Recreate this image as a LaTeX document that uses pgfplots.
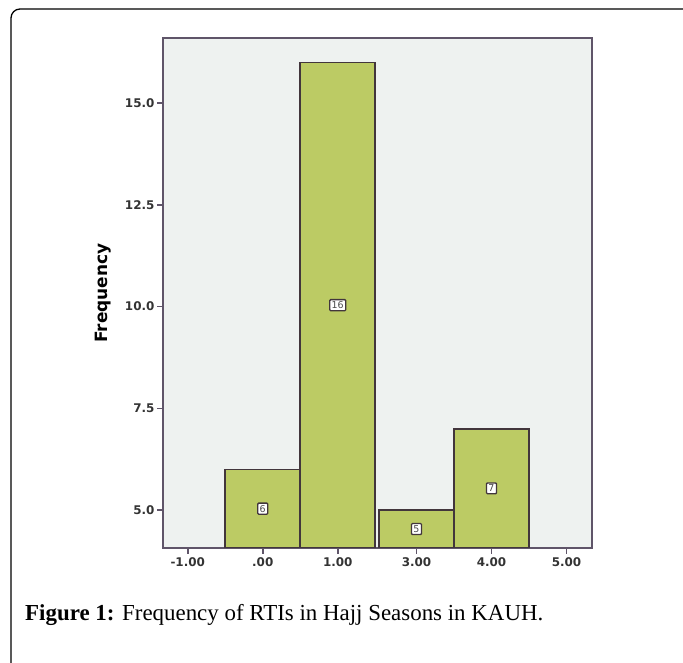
\documentclass[border=0pt]{standalone}
\usepackage{pgfplots}
\pgfplotsset{compat=1.18}
\usepackage{fontspec}
\setmainfont{Liberation Serif}
\newfontfamily\spssfont{DejaVu Sans}
\definecolor{barcol}{RGB}{188,203,100}
\definecolor{bardraw}{RGB}{66,54,60}
\definecolor{axcol}{RGB}{95,85,105}
\definecolor{bgl}{RGB}{238,242,240}
\definecolor{bgg}{RGB}{220,232,210}
\pgfdeclareverticalshading{spssbg}{100bp}{color(0bp)=(bgl); color(76bp)=(bgl); color(87bp)=(bgg); color(100bp)=(bgg)}
\pgfplotstableread{
x y
1 6
2 16
3.05 5
4.05 7
}\bardata
\pgfplotstableread{
x y l
1 5.035 6
2 10.035 16
3.05 4.535 5
4.05 5.535 7
}\labdata
\begin{document}
\begin{tikzpicture}
\useasboundingbox (0bp,0bp) rectangle (683bp,663bp);
\draw[line width=1.3bp, rounded corners=9bp] (11bp,-30bp) -- (11bp,654bp) -- (700bp,654bp);
\begin{axis}[
  at={(163bp,115bp)}, anchor=south west,
  scale only axis, width=429bp, height=510bp,
  xmin=-0.33, xmax=5.39, ymin=4.07, ymax=16.6,
  axis background/.style={shading=spssbg},
  axis line style={draw=axcol, line width=1.5bp},
  xtick={0,1,2,3.05,4.05,5.05},
  xticklabels={-1.00,.00,1.00,3.00,4.00,5.00},
  ytick={5,7.5,10,12.5,15},
  yticklabels={5.0,7.5,10.0,12.5,15.0},
  xtick pos=left, ytick pos=left,
  tick align=outside, major tick length=6bp,
  tick style={draw=axcol, line width=1.5bp},
  tick label style={font=\spssfont\bfseries\fontsize{12}{14}\selectfont, text=black!80},
  yticklabel style={xshift=1bp},
  ylabel={\spssfont\bfseries\fontsize{17}{19}\selectfont Frequency},
  ylabel style={at={(axis description cs:-0.14,0.5)}, anchor=center},
  clip=true,
]
\addplot[ybar, bar width=1, bar shift=0pt, fill=barcol, draw=bardraw, line width=1.6bp] table[x=x,y=y] {\bardata};
\addplot[draw=none, nodes near coords, point meta=explicit symbolic,
  every node near coord/.style={anchor=center, fill=white, draw=bardraw, line width=1.3bp, inner sep=2bp, rounded corners=1bp, font=\spssfont\fontsize{9.5}{10}\selectfont, text=black!70}]
  table[x=x,y=y,meta=l] {\labdata};
\end{axis}
\node[anchor=base west, inner sep=0pt, font=\fontsize{23}{26}\selectfont] at (25bp,42bp) {\textbf{Figure 1:} Frequency of RTIs in Hajj Seasons in KAUH.};
\end{tikzpicture}
\end{document}
